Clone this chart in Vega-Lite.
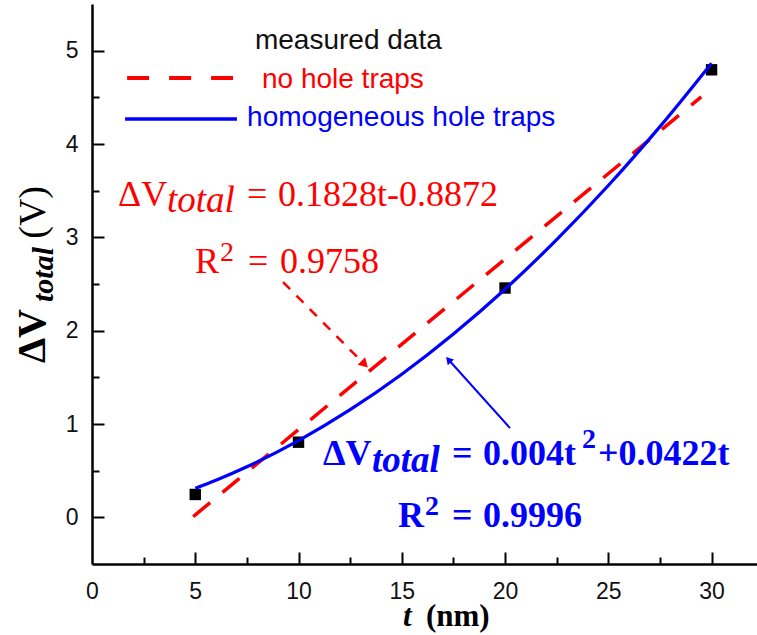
{
  "$schema": "https://vega.github.io/schema/vega-lite/v6.json",
  "width": 665,
  "height": 560,
  "autosize": {"type": "none"},
  "padding": {"left": 92, "top": 4, "right": 0, "bottom": 71},
  "background": "white",
  "config": {"view": {"stroke": null}},
  "datasets": {
    "measured": [
      {"t": 5, "v": 0.245},
      {"t": 10, "v": 0.805},
      {"t": 20, "v": 2.457},
      {"t": 30, "v": 4.795}
    ],
    "linear": [
      {"t": 4.9, "v": 0.008},
      {"t": 29.5, "v": 4.505}
    ],
    "quad": [
      {"t": 5, "v": 0.311},
      {"t": 6, "v": 0.397},
      {"t": 7.5, "v": 0.542},
      {"t": 10, "v": 0.822},
      {"t": 12.5, "v": 1.153},
      {"t": 15, "v": 1.533},
      {"t": 17.5, "v": 1.964},
      {"t": 20, "v": 2.444},
      {"t": 22.5, "v": 2.975},
      {"t": 25, "v": 3.555},
      {"t": 27.5, "v": 4.186},
      {"t": 30, "v": 4.866}
    ],
    "arrows": [
      {"arrow": "red", "t": 9.25, "v": 2.521},
      {"arrow": "red", "t": 13.1, "v": 1.66},
      {"arrow": "blue", "t": 20.24, "v": 0.956},
      {"arrow": "blue", "t": 17.3, "v": 1.68}
    ],
    "heads": [
      {"arrow": "red", "t": 13.2, "v": 1.64},
      {"arrow": "blue", "t": 17.26, "v": 1.689}
    ],
    "legendlines": [
      {"series": "no hole traps", "t": 1.7, "t2": 6.83, "v": 4.707},
      {"series": "homogeneous hole traps", "t": 1.6, "t2": 7.02, "v": 4.267}
    ],
    "texts": [
      {"g": "red", "t": 1.259, "v": 3.341, "s": "ΔV"},
      {"g": "red", "t": 7.506, "v": 3.341, "s": "="},
      {"g": "red", "t": 9.007, "v": 3.341, "s": "0.1828t-0.8872"},
      {"g": "red", "t": 4.988, "v": 2.623, "s": "R"},
      {"g": "red", "t": 7.554, "v": 2.623, "s": "="},
      {"g": "red", "t": 9.104, "v": 2.623, "s": "0.9758"},
      {"g": "redital", "t": 3.632, "v": 3.274, "s": "total"},
      {"g": "redsup", "t": 6.199, "v": 2.746, "s": "2"},
      {"g": "blue", "t": 11.186, "v": 0.566, "s": "ΔV"},
      {"g": "blue", "t": 17.433, "v": 0.566, "s": "="},
      {"g": "blue", "t": 18.935, "v": 0.566, "s": "0.004t"},
      {"g": "blue", "t": 24.504, "v": 0.566, "s": "+0.0422t"},
      {"g": "blue", "t": 14.818, "v": -0.104, "s": "R"},
      {"g": "blue", "t": 17.433, "v": -0.104, "s": "="},
      {"g": "blue", "t": 18.935, "v": -0.104, "s": "0.9996"},
      {"g": "blueital", "t": 13.559, "v": 0.489, "s": "total"},
      {"g": "bluesup", "t": 23.729, "v": 0.743, "s": "2"},
      {"g": "bluesup", "t": 16.126, "v": 0.03, "s": "2"},
      {"g": "legend", "t": 7.89, "v": 5.018, "s": "measured data", "c": "#111111"},
      {"g": "legend", "t": 8.23, "v": 4.6, "s": "no hole traps", "c": "#ff0000"},
      {"g": "legend", "t": 7.51, "v": 4.193, "s": "homogeneous hole traps", "c": "#0000ff"},
      {"g": "ytitle", "t": -2.28, "v": 1.653, "s": "ΔV"},
      {"g": "ytitleital", "t": -1.89, "v": 2.307, "s": "total"},
      {"g": "ytitlereg", "t": -2.28, "v": 2.985, "s": "(V)"},
      {"g": "xtitleital", "t": 15.06, "v": -1.163, "s": "t"},
      {"g": "xtitle", "t": 16.17, "v": -1.163, "s": "(nm)"}
    ]
  },
  "encoding": {
    "x": {"field": "t", "type": "quantitative", "scale": {"domain": [0, 32.2], "nice": false, "zero": false}, "axis": null},
    "y": {"field": "v", "type": "quantitative", "scale": {"domain": [-0.5, 5.5], "nice": false, "zero": false}, "axis": null}
  },
  "layer": [
    {
      "mark": {"type": "rule", "color": "black", "strokeWidth": 2.5},
      "encoding": {"x": null, "y": {"datum": 5.5, "type": "quantitative", "scale": {"domain": [-0.5, 5.5], "nice": false, "zero": false}, "axis": null}}
    },
    {
      "data": {"name": "measured"},
      "mark": {"type": "point", "shape": "square", "filled": true, "color": "black", "size": 130, "opacity": 1},
      "encoding": {
        "x": {
          "field": "t", "type": "quantitative",
          "scale": {"domain": [0, 32.2], "nice": false, "zero": false},
          "axis": {
            "orient": "bottom", "title": null, "grid": false, "ticks": false,
            "values": [0, 5, 10, 15, 20, 25, 30],
            "domainColor": "black", "domainWidth": 2.5,
            "labelFont": "Liberation Sans", "labelFontSize": 23, "labelColor": "#111",
            "labelPadding": 16, "labelFlush": false, "labelOverlap": false
          }
        },
        "y": {
          "field": "v", "type": "quantitative",
          "scale": {"domain": [-0.5, 5.5], "nice": false, "zero": false},
          "axis": {
            "orient": "left", "title": null, "grid": false, "ticks": false,
            "values": [0, 1, 2, 3, 4, 5], "format": "d",
            "domainColor": "black", "domainWidth": 2.5,
            "labelFont": "Liberation Sans", "labelFontSize": 23, "labelColor": "#111",
            "labelPadding": 14, "labelFlush": false, "labelOverlap": false
          }
        }
      }
    },
    {
      "data": {"name": "linear"},
      "mark": {"type": "line", "color": "#ff0000", "strokeWidth": 3.5, "strokeDash": [22, 16]},
      "encoding": {
        "x": {
          "field": "t", "type": "quantitative",
          "scale": {"domain": [0, 32.2], "nice": false, "zero": false},
          "axis": {
            "orient": "top", "offset": -560, "title": null, "grid": false, "labels": false, "domain": false,
            "values": [5, 10, 15, 20, 25, 30], "tickSize": 12, "tickWidth": 2, "tickColor": "black"
          }
        },
        "y": {
          "field": "v", "type": "quantitative",
          "scale": {"domain": [-0.5, 5.5], "nice": false, "zero": false},
          "axis": {
            "orient": "right", "offset": -665, "title": null, "grid": false, "labels": false, "domain": false,
            "values": [0, 1, 2, 3, 4, 5], "tickSize": 12, "tickWidth": 2, "tickColor": "black"
          }
        }
      }
    },
    {
      "data": {"name": "quad"},
      "mark": {"type": "line", "color": "#0000ff", "strokeWidth": 3.2, "interpolate": "monotone"},
      "encoding": {
        "x": {
          "field": "t", "type": "quantitative",
          "scale": {"domain": [0, 32.2], "nice": false, "zero": false},
          "axis": {
            "orient": "top", "offset": -560, "title": null, "grid": false, "labels": false, "domain": false,
            "values": [2.5, 7.5, 12.5, 17.5, 22.5, 27.5], "tickSize": 7, "tickWidth": 2, "tickColor": "black"
          }
        },
        "y": {
          "field": "v", "type": "quantitative",
          "scale": {"domain": [-0.5, 5.5], "nice": false, "zero": false},
          "axis": {
            "orient": "right", "offset": -665, "title": null, "grid": false, "labels": false, "domain": false,
            "values": [0.5, 1.5, 2.5, 3.5, 4.5], "tickSize": 7, "tickWidth": 2, "tickColor": "black"
          }
        }
      }
    },
    {
      "data": {"name": "arrows"},
      "transform": [{"filter": "datum.arrow === 'red'"}],
      "mark": {"type": "line", "color": "#ff0000", "strokeWidth": 2.5, "strokeDash": [10, 9]}
    },
    {
      "data": {"name": "arrows"},
      "transform": [{"filter": "datum.arrow === 'blue'"}],
      "mark": {"type": "line", "color": "#0000ff", "strokeWidth": 2}
    },
    {
      "data": {"name": "heads"},
      "transform": [{"filter": "datum.arrow === 'red'"}],
      "mark": {"type": "point", "shape": "triangle-up", "filled": true, "color": "#ff0000", "size": 110, "angle": 135, "opacity": 1}
    },
    {
      "data": {"name": "heads"},
      "transform": [{"filter": "datum.arrow === 'blue'"}],
      "mark": {"type": "point", "shape": "triangle-up", "filled": true, "color": "#0000ff", "size": 70, "angle": 318, "opacity": 1}
    },
    {
      "data": {"name": "legendlines"},
      "transform": [{"filter": "datum.series === 'no hole traps'"}],
      "mark": {"type": "rule", "color": "#ff0000", "strokeWidth": 4, "strokeDash": [22, 20]},
      "encoding": {"x2": {"field": "t2"}}
    },
    {
      "data": {"name": "legendlines"},
      "transform": [{"filter": "datum.series === 'homogeneous hole traps'"}],
      "mark": {"type": "rule", "color": "#0000ff", "strokeWidth": 3.5},
      "encoding": {"x2": {"field": "t2"}}
    },
    {
      "data": {"name": "texts"},
      "transform": [{"filter": "datum.g === 'legend'"}],
      "mark": {"type": "text", "align": "left", "baseline": "alphabetic", "font": "Liberation Sans", "fontSize": 28},
      "encoding": {"text": {"field": "s"}, "color": {"field": "c", "type": "nominal", "scale": null}}
    },
    {
      "data": {"name": "texts"},
      "transform": [{"filter": "datum.g === 'red'"}],
      "mark": {"type": "text", "align": "left", "baseline": "alphabetic", "font": "Liberation Serif", "fontSize": 36, "color": "#ff0000"},
      "encoding": {"text": {"field": "s"}}
    },
    {
      "data": {"name": "texts"},
      "transform": [{"filter": "datum.g === 'redital'"}],
      "mark": {"type": "text", "align": "left", "baseline": "alphabetic", "font": "Liberation Serif", "fontSize": 37, "fontStyle": "italic", "color": "#ff0000"},
      "encoding": {"text": {"field": "s"}}
    },
    {
      "data": {"name": "texts"},
      "transform": [{"filter": "datum.g === 'redsup'"}],
      "mark": {"type": "text", "align": "left", "baseline": "alphabetic", "font": "Liberation Serif", "fontSize": 28, "color": "#ff0000"},
      "encoding": {"text": {"field": "s"}}
    },
    {
      "data": {"name": "texts"},
      "transform": [{"filter": "datum.g === 'blue'"}],
      "mark": {"type": "text", "align": "left", "baseline": "alphabetic", "font": "Liberation Serif", "fontSize": 36, "fontWeight": "bold", "color": "#0000ff"},
      "encoding": {"text": {"field": "s"}}
    },
    {
      "data": {"name": "texts"},
      "transform": [{"filter": "datum.g === 'blueital'"}],
      "mark": {"type": "text", "align": "left", "baseline": "alphabetic", "font": "Liberation Serif", "fontSize": 37, "fontWeight": "bold", "fontStyle": "italic", "color": "#0000ff"},
      "encoding": {"text": {"field": "s"}}
    },
    {
      "data": {"name": "texts"},
      "transform": [{"filter": "datum.g === 'bluesup'"}],
      "mark": {"type": "text", "align": "left", "baseline": "alphabetic", "font": "Liberation Serif", "fontSize": 28, "fontWeight": "bold", "color": "#0000ff"},
      "encoding": {"text": {"field": "s"}}
    },
    {
      "data": {"name": "texts"},
      "transform": [{"filter": "datum.g === 'ytitle'"}],
      "mark": {"type": "text", "align": "left", "baseline": "alphabetic", "angle": 270, "font": "Liberation Serif", "fontSize": 40, "fontWeight": "bold", "color": "black"},
      "encoding": {"text": {"field": "s"}}
    },
    {
      "data": {"name": "texts"},
      "transform": [{"filter": "datum.g === 'ytitleital'"}],
      "mark": {"type": "text", "align": "left", "baseline": "alphabetic", "angle": 270, "font": "Liberation Serif", "fontSize": 30, "fontWeight": "bold", "fontStyle": "italic", "color": "black"},
      "encoding": {"text": {"field": "s"}}
    },
    {
      "data": {"name": "texts"},
      "transform": [{"filter": "datum.g === 'ytitlereg'"}],
      "mark": {"type": "text", "align": "left", "baseline": "alphabetic", "angle": 270, "font": "Liberation Serif", "fontSize": 38, "color": "black"},
      "encoding": {"text": {"field": "s"}}
    },
    {
      "data": {"name": "texts"},
      "transform": [{"filter": "datum.g === 'xtitleital'"}],
      "mark": {"type": "text", "align": "left", "baseline": "alphabetic", "font": "Liberation Serif", "fontSize": 31, "fontWeight": "bold", "fontStyle": "italic", "color": "black"},
      "encoding": {"text": {"field": "s"}}
    },
    {
      "data": {"name": "texts"},
      "transform": [{"filter": "datum.g === 'xtitle'"}],
      "mark": {"type": "text", "align": "left", "baseline": "alphabetic", "font": "Liberation Serif", "fontSize": 31, "fontWeight": "bold", "color": "black"},
      "encoding": {"text": {"field": "s"}}
    }
  ]
}
